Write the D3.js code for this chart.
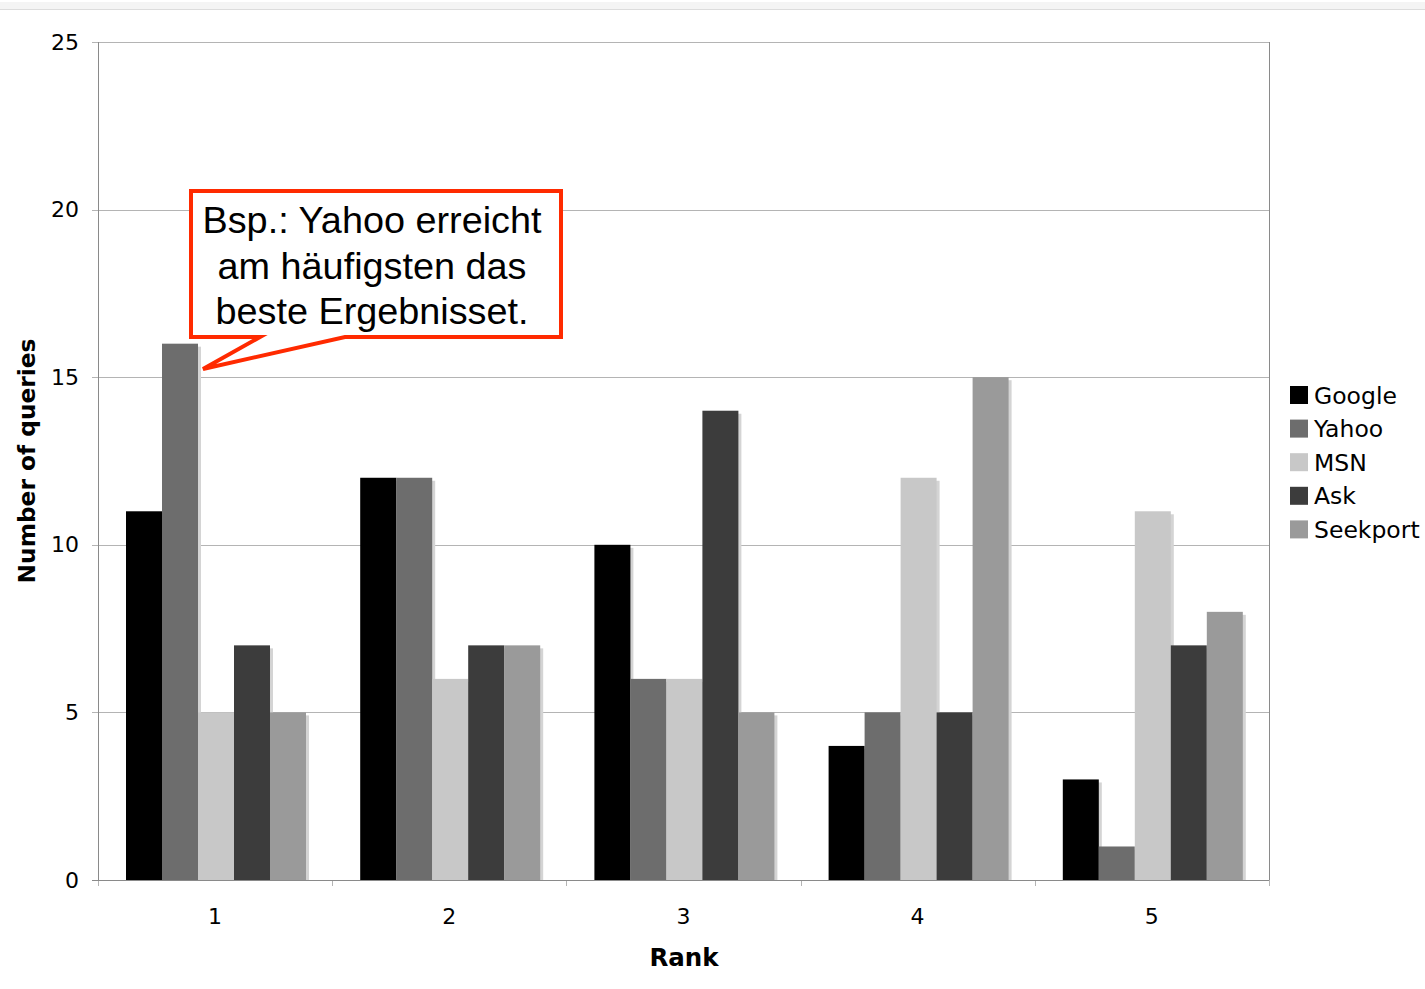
<!DOCTYPE html>
<html>
<head>
<meta charset="utf-8">
<script src="https://cdn.jsdelivr.net/npm/d3@7"></script>
<style>
  body { margin: 0; background: #fff; }
  svg text { font-family: "DejaVu Sans", Verdana, sans-serif; }
</style>
</head>
<body>
<div id="chart"></div>
<script>
// Données du graphique
const ranks = ["1", "2", "3", "4", "5"];
const engines = ["Google", "Yahoo", "MSN", "Ask", "Seekport"];
const google = [11, 12, 10, 4, 3];
const yahoo = [16, 12, 6, 5, 1];
const msn = [5, 6, 6, 12, 11];
const ask = [7, 7, 14, 5, 7];
const seekport = [5, 7, 5, 15, 8];
const yTicks = [0, 5, 10, 15, 20, 25];
const calloutLines = ["Bsp.: Yahoo erreicht", "am häufigsten das", "beste Ergebnisset."];

const seriesValues = [google, yahoo, msn, ask, seekport];
const colors = ["#000000", "#6d6d6d", "#c8c8c8", "#3c3c3c", "#9a9a9a"];

const width = 1425, height = 989;
const plotLeft = 98, plotRight = 1269, plotTop = 42, plotBottom = 880;

const svg = d3.select("#chart")
    .append("svg")
    .attr("width", width)
    .attr("height", height);

// bandeau gris en haut
svg.append("rect").attr("x", 0).attr("y", 2).attr("width", width).attr("height", 7).attr("fill", "#f4f4f4");
svg.append("line").attr("x1", 0).attr("x2", width).attr("y1", 9.5).attr("y2", 9.5).attr("stroke", "#dcdcdc");

const x = d3.scaleBand().domain(ranks).range([plotLeft, plotRight]);
const xInner = d3.scaleBand().domain(engines).range([28, 28 + 180]);
const y = d3.scaleLinear().domain([0, 25]).range([plotBottom, plotTop]);

// Grille
svg.selectAll(".grid")
    .data(yTicks)
    .join("line")
    .attr("class", "grid")
    .attr("x1", plotLeft - 6)
    .attr("x2", plotRight)
    .attr("y1", d => Math.round(y(d)) + 0.5)
    .attr("y2", d => Math.round(y(d)) + 0.5)
    .attr("stroke", d => d === 0 ? "#8a8a8a" : "#b4b4b4")
    .attr("stroke-width", 1);

// cadre
svg.append("line").attr("x1", plotLeft + 0.5).attr("x2", plotLeft + 0.5).attr("y1", plotTop).attr("y2", plotBottom + 6).attr("stroke", "#8a8a8a");
svg.append("line").attr("x1", plotRight + 0.5).attr("x2", plotRight + 0.5).attr("y1", plotTop).attr("y2", plotBottom).attr("stroke", "#8a8a8a");

// graduations x
svg.selectAll(".xtick")
    .data(ranks.concat(["end"]))
    .join("line")
    .attr("class", "xtick")
    .attr("x1", (d, i) => Math.round(plotLeft + i * x.bandwidth()) + 0.5)
    .attr("x2", (d, i) => Math.round(plotLeft + i * x.bandwidth()) + 0.5)
    .attr("y1", plotBottom)
    .attr("y2", plotBottom + 6)
    .attr("stroke", "#b4b4b4");

// Barres
const rows = [];
engines.forEach((e, s) => ranks.forEach((r, i) => rows.push({ engine: e, rank: r, value: seriesValues[s][i], color: colors[s] })));

// ombres
svg.selectAll(".shadow")
    .data(rows)
    .join("rect")
    .attr("class", "shadow")
    .attr("x", d => x(d.rank) + xInner(d.engine) + 3)
    .attr("y", d => y(d.value) + 3)
    .attr("width", xInner.bandwidth())
    .attr("height", d => plotBottom - y(d.value) - 3)
    .attr("fill", "#d4d4d4");

svg.selectAll(".bar")
    .data(rows)
    .join("rect")
    .attr("class", "bar")
    .attr("x", d => x(d.rank) + xInner(d.engine))
    .attr("y", d => y(d.value))
    .attr("width", xInner.bandwidth())
    .attr("height", d => plotBottom - y(d.value))
    .attr("fill", d => d.color);

// ligne de base par-dessus
svg.append("line").attr("x1", plotLeft - 6).attr("x2", plotRight).attr("y1", plotBottom + 0.5).attr("y2", plotBottom + 0.5).attr("stroke", "#8a8a8a");

// étiquettes axe y
svg.selectAll(".ylabel")
    .data(yTicks)
    .join("text")
    .attr("class", "ylabel")
    .attr("x", 79)
    .attr("y", d => y(d) + 7.5)
    .attr("text-anchor", "end")
    .attr("font-size", 22)
    .attr("fill", "#000")
    .text(d => d);

// étiquettes axe x
svg.selectAll(".xlabel")
    .data(ranks)
    .join("text")
    .attr("class", "xlabel")
    .attr("x", d => x(d) + 117)
    .attr("y", 924)
    .attr("text-anchor", "middle")
    .attr("font-size", 22)
    .text(d => d);

svg.append("text")
    .attr("x", 684).attr("y", 966)
    .attr("text-anchor", "middle")
    .attr("font-size", 24.5).attr("font-weight", "bold")
    .text("Rank");

svg.append("text")
    .attr("transform", "translate(35, 461) rotate(-90)")
    .attr("text-anchor", "middle")
    .attr("font-size", 23.3).attr("font-weight", "bold")
    .text("Number of queries");

// Légende
const legend = svg.selectAll(".legend")
    .data(engines)
    .join("g")
    .attr("class", "legend")
    .attr("transform", (d, i) => `translate(1290, ${386 + i * 33.6})`);

legend.append("rect").attr("width", 18).attr("height", 18).attr("fill", (d, i) => colors[i]);
legend.append("text").attr("x", 24).attr("y", 17.5).attr("font-size", 23.5).text(d => d);

// Bulle
const tip = [203, 369];
svg.append("path")
    .attr("d", `M191,191 H561 V337 H345 L${tip[0]},${tip[1]} L260,337 H191 Z`)
    .attr("fill", "#fff")
    .attr("stroke", "#ff2a00")
    .attr("stroke-width", 4)
    .attr("stroke-linejoin", "miter");

svg.selectAll(".callout")
    .data(calloutLines)
    .join("text")
    .attr("class", "callout")
    .attr("x", 372)
    .attr("y", (d, i) => 233 + i * 45.5)
    .attr("text-anchor", "middle")
    .attr("font-size", 37.8)
    .style("font-family", "'Liberation Sans', Arial, sans-serif")
    .text(d => d);
</script>
</body>
</html>
